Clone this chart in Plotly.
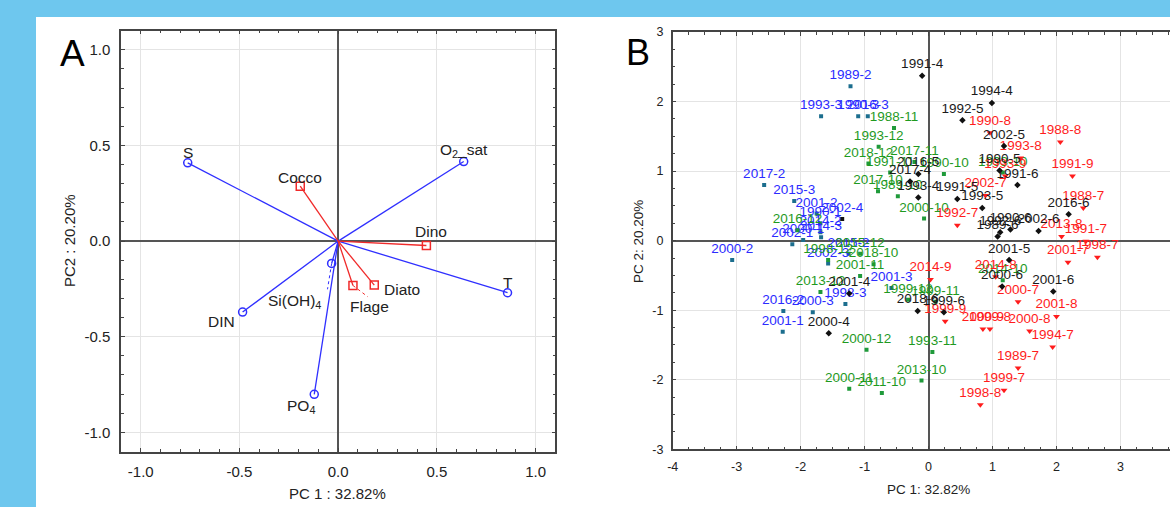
import plotly.graph_objects as go

# ---------------- Panel A : loadings ----------------
A_ENV = ["S", "O<sub>2</sub>_sat", "T", "DIN", "PO<sub>4</sub>", "Si(OH)<sub>4</sub>"]
A_ENV_X = [-0.762, 0.636, 0.858, -0.484, -0.121, -0.033]
A_ENV_Y = [0.409, 0.416, -0.270, -0.371, -0.801, -0.117]
A_ENV_LABEL_SHIFT = [(0, 10), (0, 11), (0, 10), (-21, -9), (-13, -12), (-37, -38)]

A_PHY = ["Cocco", "Dino", "Diato", "Flage"]
A_PHY_X = [-0.192, 0.447, 0.183, 0.075]
A_PHY_Y = [0.287, -0.023, -0.230, -0.232]
A_PHY_LABEL_SHIFT = [(0, 9), (5, 14), (28, -4), (17, -21)]

# dotted label leaders (Si(OH)4 and Flage)
A_LEADER_ENV_END = (-0.054, -0.252)
A_LEADER_PHY_END = (0.150, -0.291)

A_TICKS = [-1.0, -0.5, 0.0, 0.5, 1.0]
A_TICK_TEXT = ["-1.0", "-0.5", "0.0", "0.5", "1.0"]

# ---------------- Panel B : scores ----------------
B_BLACK_LAB = ["1991-4", "1994-4", "1992-5", "2002-5", "1990-5", "1991-6", "2016-5", "2017-4",
               "1993-4", "1991-5", "1993-5", "2016-6", "2002-6", "1989-6", "1992-6", "1990-6",
               "2001-5", "2000-6", "2001-6", "2018-6", "1999-6", "2001-4", "2000-4"]
B_BLACK_X = [-0.10, 0.99, 0.53, 1.18, 1.11, 1.39, -0.16, -0.29,
             -0.16, 0.45, 0.84, 2.19, 1.72, 1.08, 1.12, 1.28,
             1.26, 1.15, 1.95, -0.17, 0.24, -1.24, -1.56]
B_BLACK_Y = [2.37, 1.98, 1.73, 1.36, 1.01, 0.80, 0.96, 0.85,
             0.62, 0.60, 0.47, 0.38, 0.14, 0.06, 0.12, 0.16,
             -0.28, -0.66, -0.73, -1.01, -1.03, -0.76, -1.33]

B_RED_LAB = ["1990-8", "1988-8", "1993-8", "1993-9", "1991-9", "2002-7", "1988-7", "1992-7",
             "2013-8", "1991-7", "1998-7", "2001-7", "2014-9", "2014-8", "2000-7", "2001-8",
             "1999-9", "2000-9", "1999-8", "2000-8", "1994-7", "1989-7", "1999-7", "1998-8"]
B_RED_X = [0.96, 2.06, 1.44, 1.20, 2.25, 0.89, 2.42, 0.45,
           2.08, 2.46, 2.64, 2.18, 0.03, 1.05, 1.40, 2.00,
           0.26, 0.85, 0.96, 1.58, 1.94, 1.40, 1.18, 0.81]
B_RED_Y = [1.55, 1.42, 1.19, 0.93, 0.93, 0.65, 0.47, 0.22,
           0.06, -0.01, -0.24, -0.31, -0.56, -0.52, -0.88, -1.09,
           -1.16, -1.27, -1.27, -1.30, -1.53, -1.83, -2.15, -2.36]

B_GREEN_LAB = ["1988-11", "1993-12", "2018-12", "2017-11", "1991-11", "1990-10", "1993-10",
               "2017-10", "1989-10", "2000-10", "2016-12", "2015-12", "1998-12", "2018-10",
               "2001-11", "2013-12", "1999-12", "1999-11", "2014-10", "2000-12", "1993-11",
               "2013-10", "2000-11", "2011-10"]
B_GREEN_X = [-0.54, -0.78, -0.94, -0.22, -0.60, 0.24, 1.16,
             -0.79, -0.48, -0.07, -2.05, -1.07, -1.57, -0.86,
             -1.07, -1.69, -0.32, 0.11, 1.16, -0.97, 0.06,
             -0.11, -1.24, -0.73]
B_GREEN_Y = [1.62, 1.35, 1.11, 1.13, 0.98, 0.96, 0.98,
             0.71, 0.64, 0.32, 0.15, -0.19, -0.28, -0.34,
             -0.51, -0.74, -0.85, -0.88, -0.57, -1.57, -1.60,
             -2.01, -2.13, -2.19]

B_BLUE_LAB = ["1989-2", "1993-3", "1990-3", "2016-3", "2017-2", "2015-3", "2001-2", "2002-4",
              "1990-1", "2014-2", "2014-3", "2000-1", "2002-1", "2000-2", "2015-2", "2002-3",
              "2001-3", "1998-3", "2016-2", "2000-3", "2001-1"]
B_BLUE_X = [-1.22, -1.68, -1.10, -0.95, -2.57, -2.10, -1.75, -1.35,
            -1.69, -1.69, -1.68, -1.96, -2.13, -3.07, -1.25, -1.57,
            -0.58, -1.30, -2.27, -1.81, -2.28]
B_BLUE_Y = [2.22, 1.79, 1.79, 1.79, 0.80, 0.57, 0.39, 0.31,
            0.25, 0.12, 0.05, 0.01, -0.05, -0.28, -0.19, -0.33,
            -0.68, -0.91, -1.01, -1.03, -1.31]
B_BLUE_BLACK_MARKER = {"2002-4"}

B_XTICKS = [-4, -3, -2, -1, 0, 1, 2, 3]
B_XTICK_TEXT = ["-4", "-3", "-2", "-1", "0", "1", "2", "3"]
B_YTICKS = [-3, -2, -1, 0, 1, 2, 3]
B_YTICK_TEXT = ["-3", "-2", "-1", "0", "1", "2", "3"]

# ---------------- styling ----------------
FONT = "Liberation Sans, Arial, sans-serif"
BLUE_LINE = "#2f2fff"
RED_LINE = "#f02a2a"
AX = "#444444"
GRID = "#e4e4e4"

fig = go.Figure()

# Panel A vectors
for name, x, y in zip(A_ENV, A_ENV_X, A_ENV_Y):
    fig.add_trace(go.Scatter(x=[0, x], y=[0, y], mode="lines", line=dict(color=BLUE_LINE, width=1.3),
                             xaxis="x", yaxis="y", showlegend=False, hoverinfo="skip"))
for name, x, y in zip(A_PHY, A_PHY_X, A_PHY_Y):
    fig.add_trace(go.Scatter(x=[0, x], y=[0, y], mode="lines", line=dict(color=RED_LINE, width=1.3),
                             xaxis="x", yaxis="y", showlegend=False, hoverinfo="skip"))
# leaders
i_si = A_ENV.index("Si(OH)<sub>4</sub>")
fig.add_trace(go.Scatter(x=[A_ENV_X[i_si], A_LEADER_ENV_END[0]], y=[A_ENV_Y[i_si], A_LEADER_ENV_END[1]],
                         mode="lines", line=dict(color=BLUE_LINE, width=1, dash="dot"),
                         xaxis="x", yaxis="y", showlegend=False, hoverinfo="skip"))
i_fl = A_PHY.index("Flage")
fig.add_trace(go.Scatter(x=[A_PHY_X[i_fl], A_LEADER_PHY_END[0]], y=[A_PHY_Y[i_fl], A_LEADER_PHY_END[1]],
                         mode="lines", line=dict(color=RED_LINE, width=1, dash="dot"),
                         xaxis="x", yaxis="y", showlegend=False, hoverinfo="skip"))
# endpoints
fig.add_trace(go.Scatter(x=A_ENV_X, y=A_ENV_Y, mode="markers",
                         marker=dict(symbol="circle-open", size=8, color=BLUE_LINE, line=dict(width=1.5)),
                         xaxis="x", yaxis="y", showlegend=False))
fig.add_trace(go.Scatter(x=A_PHY_X, y=A_PHY_Y, mode="markers",
                         marker=dict(symbol="square-open", size=8, color=RED_LINE, line=dict(width=1.5)),
                         xaxis="x", yaxis="y", showlegend=False))

annotations = []
for names, xs, ys, shifts in [(A_ENV, A_ENV_X, A_ENV_Y, A_ENV_LABEL_SHIFT),
                              (A_PHY, A_PHY_X, A_PHY_Y, A_PHY_LABEL_SHIFT)]:
    for n, x, y, (dx, dy) in zip(names, xs, ys, shifts):
        annotations.append(dict(x=x, y=y, xref="x", yref="y", text=n, showarrow=False,
                                xanchor="center", yanchor="middle",
                                xshift=dx, yshift=dy, font=dict(family=FONT, size=15.5, color="#222")))

# Panel B scatter
def add_group(labels, xs, ys, tcolor, mcolor, symbol, size, black_set=None):
    mcolors = [("#111111" if (black_set and l in black_set) else mcolor) for l in labels]
    fig.add_trace(go.Scatter(x=xs, y=ys, mode="markers+text", text=labels, textposition="top center",
                             textfont=dict(family=FONT, size=13.5, color=tcolor),
                             marker=dict(symbol=symbol, size=size, color=mcolors, line=dict(width=0)),
                             xaxis="x2", yaxis="y2", showlegend=False))

add_group(B_BLUE_LAB, B_BLUE_X, B_BLUE_Y, "#2b2bff", "#1c6e8e", "square", 4, B_BLUE_BLACK_MARKER)
add_group(B_GREEN_LAB, B_GREEN_X, B_GREEN_Y, "#1f9a1f", "#1f9a3a", "square", 4)
add_group(B_RED_LAB, B_RED_X, B_RED_Y, "#ff1c1c", "#ff1c1c", "triangle-down", 6)
add_group(B_BLACK_LAB, B_BLACK_X, B_BLACK_Y, "#1a1a1a", "#111111", "diamond", 5)

W, H = 1170, 507
def px(x):
    return x / W
def py(y):
    return (H - y) / H

tickfont = dict(family=FONT, size=15, color="#222")
tickfontB = dict(family=FONT, size=12.5, color="#222")

common = dict(showline=True, linecolor=AX, linewidth=1.5, ticks="inside", ticklen=4, tickcolor=AX,
              showgrid=True, gridcolor=GRID, gridwidth=1, zeroline=True, zerolinecolor="#555555",
              zerolinewidth=1.8, tickmode="array", fixedrange=True, automargin=False)

fig.update_layout(
    width=W, height=H, autosize=False, margin=dict(l=0, r=0, t=0, b=0, pad=0),
    paper_bgcolor="#6ec7ee", plot_bgcolor="white", showlegend=False,
    xaxis=dict(domain=[px(121), px(555.3)], range=[-1.1, 1.1], tickvals=A_TICKS, ticktext=A_TICK_TEXT,
               mirror="ticks", tickfont=tickfont, ticklabelstandoff=6,
               minor=dict(tickmode="linear", tick0=0, dtick=0.1, ticks="inside", ticklen=3, tickcolor=AX,
                          showgrid=False),
               anchor="y", **common),
    yaxis=dict(domain=[py(451.5), py(30.7)], range=[-1.1, 1.1], tickvals=A_TICKS, ticktext=A_TICK_TEXT,
               mirror="ticks", tickfont=tickfont, ticklabelstandoff=6,
               minor=dict(tickmode="linear", tick0=0, dtick=0.1, ticks="inside", ticklen=3, tickcolor=AX,
                          showgrid=False),
               anchor="x", **common),
    xaxis2=dict(domain=[px(672.7), 1.0], range=[-4, 3.775], tickvals=B_XTICKS, ticktext=B_XTICK_TEXT,
                mirror="ticks", tickfont=tickfontB, ticklabelstandoff=5,
                minor=dict(tickmode="linear", tick0=0, dtick=0.25, ticks="inside", ticklen=3, tickcolor=AX,
                           showgrid=False),
                anchor="y2", **common),
    yaxis2=dict(domain=[py(449.3), py(32)], range=[-3, 3], tickvals=B_YTICKS, ticktext=B_YTICK_TEXT,
                mirror=False, tickfont=tickfontB, ticklabelstandoff=5,
                minor=dict(tickmode="linear", tick0=0, dtick=0.25, ticks="inside", ticklen=3, tickcolor=AX,
                           showgrid=False),
                anchor="x2", **common),
    shapes=[dict(type="rect", xref="paper", yref="paper", x0=px(36), x1=1.0, y0=0, y1=py(17),
                 fillcolor="white", line=dict(width=0), layer="below")],
)

# Axis titles and panel letters
def paper_text(x, y, text, size, angle=0, color="#222"):
    return dict(x=px(x), y=py(y), xref="paper", yref="paper", text=text, showarrow=False,
                xanchor="center", yanchor="middle", textangle=angle,
                font=dict(family=FONT, size=size, color=color))

annotations += [
    paper_text(338, 493, "PC 1 : 32.82%", 15),
    paper_text(69, 241, "PC2 : 20.20%", 15, angle=-90),
    paper_text(928, 489, "PC 1: 32.82%", 13.5),
    paper_text(638, 241, "PC 2: 20.20%", 13.5, angle=-90),
    paper_text(72, 54, "A", 37, color="black"),
    paper_text(638, 53, "B", 36, color="black"),
]
fig.update_layout(annotations=annotations)

fig.write_html("out.html", config={"displayModeBar": False},
               post_script="document.body.style.margin='0';document.body.style.padding='0';"
                           "document.body.style.overflow='hidden';")
